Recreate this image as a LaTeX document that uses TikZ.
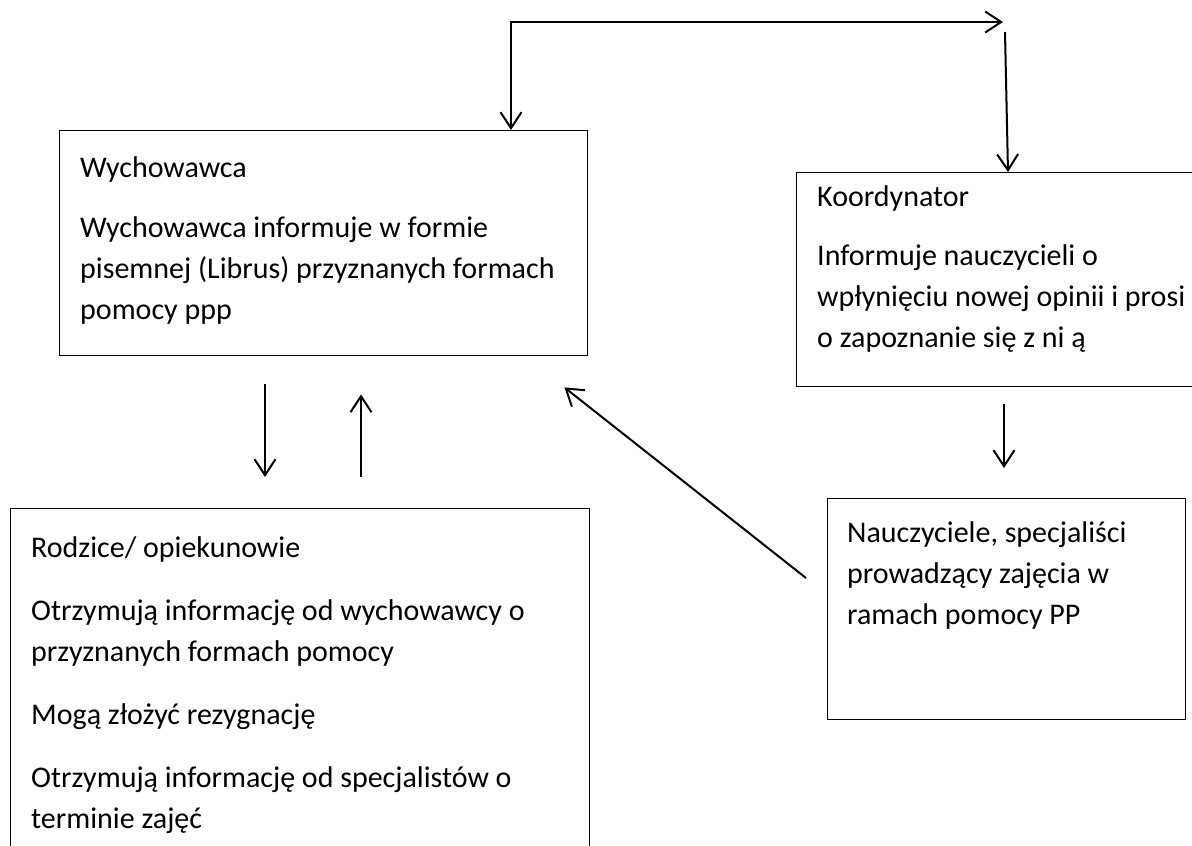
\documentclass[tikz,border=0pt]{standalone}
\usepackage{fontspec}
\setmainfont{Carlito}
\usetikzlibrary{arrows.meta,calc}
\begin{document}
\begin{tikzpicture}[x=1pt,y=-1pt,
  box/.style={draw, line width=1.4pt, inner sep=0pt, anchor=north west},
  txt/.style={anchor=north west, inner sep=0pt, align=left, font=\fontsize{30}{41}\selectfont},
  tip/.tip={Straight Barb[length=16pt,width=21pt,line width=2pt]},
  arr/.style={line width=2pt, -tip},
  arrb/.style={line width=2pt, tip-tip}]
\useasboundingbox (0,0) rectangle (1192,846);
\clip (0,0) rectangle (1192,846);

% boxes
\node[box, minimum width=528pt, minimum height=225pt] (wych) at (59,130) {};
\node[box, minimum width=410pt, minimum height=214pt] (koord) at (796,172) {};
\node[box, minimum width=358pt, minimum height=221pt] (naucz) at (827,498) {};
\node[box, minimum width=579pt, minimum height=360pt] (rodz) at (10,508) {};

% texts
\node[txt] (wycht) at (80,149) {\strut Wychowawca\\[19pt]
  Wychowawca informuje w formie\\
  pisemnej (Librus) przyznanych formach\\
  pomocy ppp};
\node[txt] (koordt) at (817,178) {\strut Koordynator\\[18pt]
  Informuje nauczycieli o\\
  wpłynięciu nowej opinii i prosi\\
  o zapoznanie się z ni ą};
\node[txt] (nauczt) at (847,514) {\strut Nauczyciele, specjaliści\\
  prowadzący zajęcia w\\
  ramach pomocy PP};
\node[txt] (rodzt) at (31,529) {\strut Rodzice/ opiekunowie\\[22pt]
  Otrzymują informację od wychowawcy o\\
  przyznanych formach pomocy\\[22pt]
  Mogą złożyć rezygnację\\[22pt]
  Otrzymują informację od specjalistów o\\
  terminie zajęć};

% connectors
\coordinate (topr) at (1003,22);
\coordinate (topr2) at (1005,32);
\draw[arrb] (topr) -| ($(wych.north west)+(452,0)$);
\draw[arr] (topr2) -- ($(koord.north west)+(212,0)$);
\draw[arr] ($(koord.south west)+(208,17)$) -- ($(naucz.north west)+(177,-30)$);
\draw[arr] ($(naucz.north west)+(-21,80)$) -- ($(wych.south east)+(-24,31)$);
\draw[arr] ($(wych.south west)+(206,28)$) -- ($(rodz.north west)+(255,-31)$);
\draw[arr] ($(rodz.north west)+(351,-31)$) -- ($(wych.south west)+(302,38)$);
\end{tikzpicture}
\end{document}
